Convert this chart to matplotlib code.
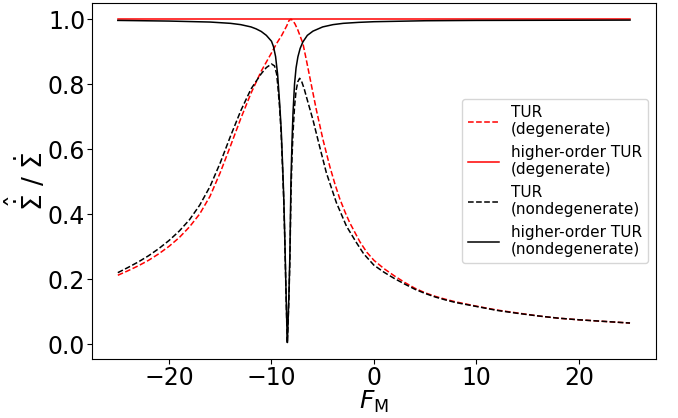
import numpy as np
import matplotlib
matplotlib.use('Agg')
import matplotlib.pyplot as plt

################################### Dati ###############################

# TUR (degenerate) - rosso tratteggiato
F_tur_deg = [-25, -24, -23, -22, -21, -20, -19, -18, -17, -16,
             -15, -14, -13, -12, -11, -10, -9.5, -9, -8.5, -8.3,
             -8.1, -7.9, -7.7, -7.42, -6.93, -6.6, -6.27, -5.62, -4.97, -4.31,
             -3.8, -3.33, -2.8, -2.35, -1.37, -0.7, 0, 1, 2, 3,
             4, 5, 6, 7, 8, 10, 12, 14, 16, 18,
             20, 22, 25]
S_tur_deg = [0.212, 0.226, 0.241, 0.258, 0.278, 0.301, 0.328, 0.361, 0.401, 0.455,
             0.528, 0.610, 0.694, 0.772, 0.840, 0.896, 0.925, 0.950, 0.980, 0.995,
             1.000, 0.995, 0.985, 0.966, 0.925, 0.875, 0.823, 0.721, 0.629, 0.547,
             0.492, 0.447, 0.405, 0.373, 0.315, 0.283, 0.258, 0.232, 0.210, 0.190,
             0.172, 0.158, 0.147, 0.138, 0.130, 0.117, 0.105, 0.096, 0.087, 0.080,
             0.075, 0.071, 0.065]

# higher-order TUR (degenerate) - rosso continuo
F_hot_deg = [-25, 0, 25]
S_hot_deg = [1.0, 1.0, 1.0]

# TUR (nondegenerate) - nero tratteggiato
F_tur_nd = [-25, -24, -23, -22, -21, -20, -19, -18, -17, -16,
            -15, -14, -13, -12, -11, -10.5, -10, -9.7, -9.5, -9.38,
            -9.2, -9.05, -8.9, -8.8, -8.7, -8.6, -8.5, -8.45, -8.4, -8.3,
            -8.2, -8.1, -8.0, -7.9, -7.75, -7.6, -7.42, -7.25, -7.05, -6.8,
            -6.6, -5.95, -5.3, -4.64, -3.66, -2.68, -1.7, -1.0, 0, 1,
            2, 3, 4, 5, 6, 7, 8, 10, 12, 14,
            16, 18, 20, 22, 25]
S_tur_nd = [0.220, 0.236, 0.253, 0.272, 0.294, 0.319, 0.348, 0.383, 0.428, 0.485,
            0.558, 0.640, 0.718, 0.785, 0.832, 0.851, 0.862, 0.856, 0.832, 0.795,
            0.725, 0.645, 0.525, 0.440, 0.320, 0.180, 0.055, 0.004, 0.045, 0.140,
            0.260, 0.460, 0.570, 0.650, 0.730, 0.780, 0.808, 0.818, 0.808, 0.785,
            0.762, 0.690, 0.608, 0.527, 0.435, 0.363, 0.312, 0.278, 0.243, 0.221,
            0.202, 0.185, 0.169, 0.156, 0.145, 0.136, 0.128, 0.116, 0.104, 0.095,
            0.087, 0.080, 0.075, 0.071, 0.065]

# higher-order TUR (nondegenerate) - nero continuo
F_hot_nd = [-25, -20, -16, -14, -13, -12, -11.5, -11, -10.5, -10,
            -9.8, -9.6, -9.4, -9.2, -9.05, -8.9, -8.8, -8.7, -8.6, -8.5,
            -8.45, -8.4, -8.3, -8.2, -8.1, -8.0, -7.9, -7.75, -7.6, -7.42,
            -7.2, -6.93, -6.5, -5.95, -5, -4, -3, -1.5, 0, 5,
            10, 25]
S_hot_nd = [0.996, 0.994, 0.991, 0.987, 0.983, 0.976, 0.970, 0.962, 0.950, 0.932,
            0.915, 0.885, 0.830, 0.740, 0.660, 0.540, 0.450, 0.330, 0.190, 0.060,
            0.005, 0.050, 0.150, 0.280, 0.500, 0.620, 0.710, 0.800, 0.850, 0.884,
            0.910, 0.930, 0.950, 0.963, 0.976, 0.983, 0.987, 0.990, 0.992, 0.995,
            0.996, 0.997]

################################### Grafico ##############################################

fig, ax = plt.subplots(figsize=(6.78, 4.18), dpi=100)
plt.subplots_adjust(left=0.136, right=0.967, bottom=0.141, top=0.993)

ax.plot(F_tur_deg, S_tur_deg, '--', color='red',   lw=1.1, label='TUR\n(degenerate)')
ax.plot(F_hot_deg, S_hot_deg, '-',  color='red',   lw=1.1, label='higher-order TUR\n(degenerate)')
ax.plot(F_tur_nd,  S_tur_nd,  '--', color='black', lw=1.1, label='TUR\n(nondegenerate)')
ax.plot(F_hot_nd,  S_hot_nd,  '-',  color='black', lw=1.1, label='higher-order TUR\n(nondegenerate)')

ax.set_xlabel(r'$F_{\rm M}$', fontsize=18, labelpad=-1)
ax.set_ylabel(r'$\hat{\dot{\Sigma}}\ /\ \dot{\Sigma}$', fontsize=19, labelpad=-1)
ax.tick_params(axis='both', which='major', labelsize=17, pad=1.5)
ax.legend(loc='center right', fontsize=11)

plt.savefig('out.png', dpi=100)
